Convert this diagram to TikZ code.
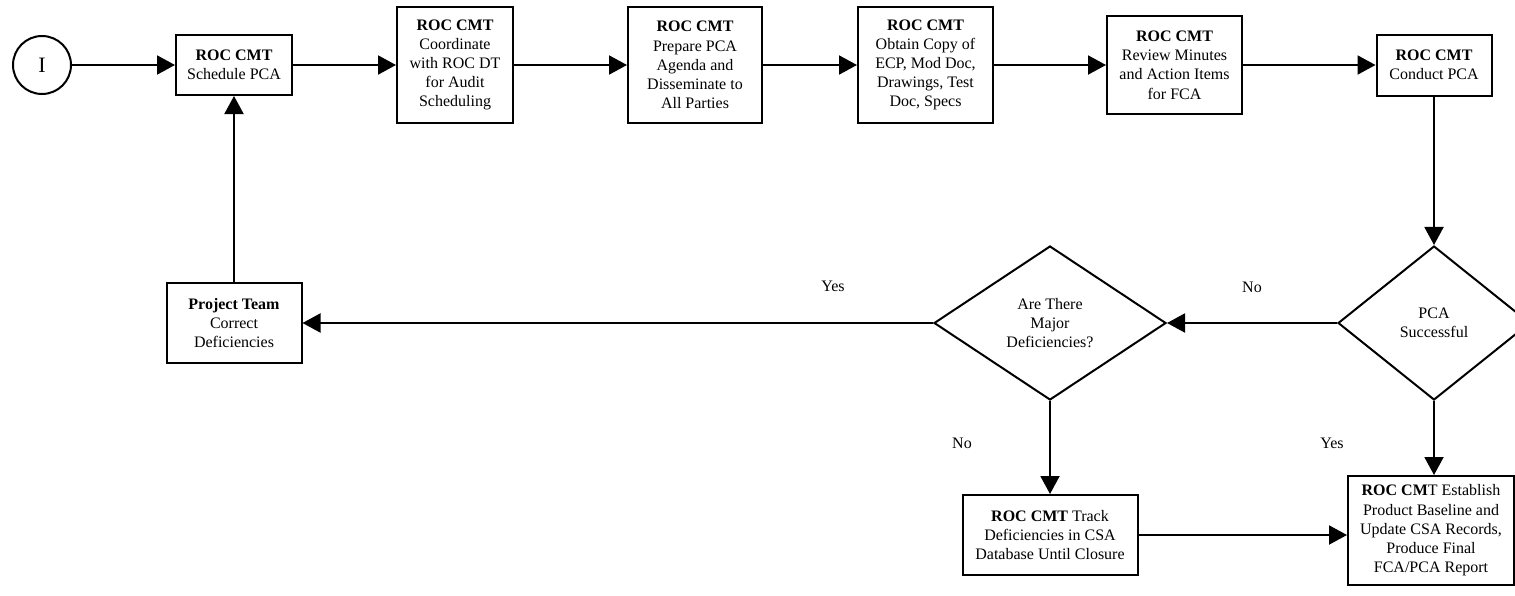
\documentclass[tikz,border=0pt]{standalone}
\usepackage{fontspec}
\setmainfont{Liberation Serif}
\usetikzlibrary{shapes.geometric,arrows.meta}

\begin{document}
\begin{tikzpicture}[x=0.5pt,y=-0.5pt,
        box/.style={draw,line width=1pt,align=center,inner sep=0pt,font=\fontsize{8}{9.6}\selectfont},
        decision/.style={draw,diamond,line width=1pt,align=center,inner sep=0pt,font=\fontsize{8}{9.6}\selectfont},
        flow/.style={line width=1pt,-{Triangle[length=9pt,width=9.5pt]}},
        lbl/.style={font=\fontsize{8}{9.6}\selectfont}]
            \useasboundingbox (0,0) rectangle (1515,595);

            \node[draw,circle,line width=1pt,minimum size=29pt,inner sep=0pt,font=\fontsize{11}{13}\selectfont] (start) at (42,65) {I};

            % top row
            \node[box,minimum width=58pt,minimum height=30pt] (sched) at (234,65) {\textbf{ROC CMT}\\Schedule PCA};
            \node[box,minimum width=58pt,minimum height=58pt] (coord) at (455,65) {\textbf{ROC CMT}\\Coordinate\\with ROC DT\\for Audit\\Scheduling};
            \node[box,minimum width=67pt,minimum height=58pt] (agenda) at (695,65) {\textbf{ROC CMT}\\Prepare PCA\\Agenda and\\Disseminate to\\All Parties};
            \node[box,minimum width=67.5pt,minimum height=58pt] (copy) at (925.5,65) {\textbf{ROC CMT}\\Obtain Copy of\\ECP, Mod Doc,\\Drawings, Test\\Doc, Specs};
            \node[box,minimum width=67.5pt,minimum height=49pt] (review) at (1174.5,65) {\textbf{ROC CMT}\\Review Minutes\\and Action Items\\for FCA};
            \node[box,minimum width=57.5pt,minimum height=30.5pt] (conduct) at (1434,65) {\textbf{ROC CMT}\\Conduct PCA};

            % decisions
            \node[decision,minimum width=96pt,minimum height=77pt] (pca) at (1434,323) {PCA\\Successful};
            \node[decision,minimum width=116pt,minimum height=77pt] (major) at (1050,323) {Are There\\Major\\Deficiencies?};

            \node[box,minimum width=67.5pt,minimum height=40pt] (fix) at (234,323) {\textbf{Project Team}\\Correct\\Deficiencies};
            \node[box,minimum width=87.5pt,minimum height=40pt] (track) at (1050,535) {\textbf{ROC CMT} Track\\Deficiencies in CSA\\Database Until Closure};
            \node[box,minimum width=83pt,minimum height=54.5pt] (final) at (1431,530.5) {\textbf{ROC CM}T Establish\\Product Baseline and\\Update CSA Records,\\Produce Final\\FCA/PCA Report};

            \draw[flow] (start) -- (sched);
            \draw[flow] (sched) -- (coord);
            \draw[flow] (coord) -- (agenda);
            \draw[flow] (agenda) -- (copy);
            \draw[flow] (copy) -- (review);
            \draw[flow] (review) -- (conduct);
            \draw[flow] (conduct) -- (pca);

            \draw[flow] (pca.west) -- (major.east);
            \node[lbl] (no1) at (1252,287) {No};
            \draw[flow] (major.west) -- (fix.east);
            \node[lbl] (yes1) at (833,286) {Yes};
            \draw[flow] (fix) -- (sched);

            \draw[flow] (major.south) -- (track.north);
            \node[lbl] (no2) at (962,443) {No};
            \draw[flow] (pca.south) -- (pca.south |- final.north);
            \node[lbl] (yes2) at (1332,443) {Yes};
            \draw[flow] (track.east) -- (track.east -| final.west);
        \end{tikzpicture}
\end{document}
